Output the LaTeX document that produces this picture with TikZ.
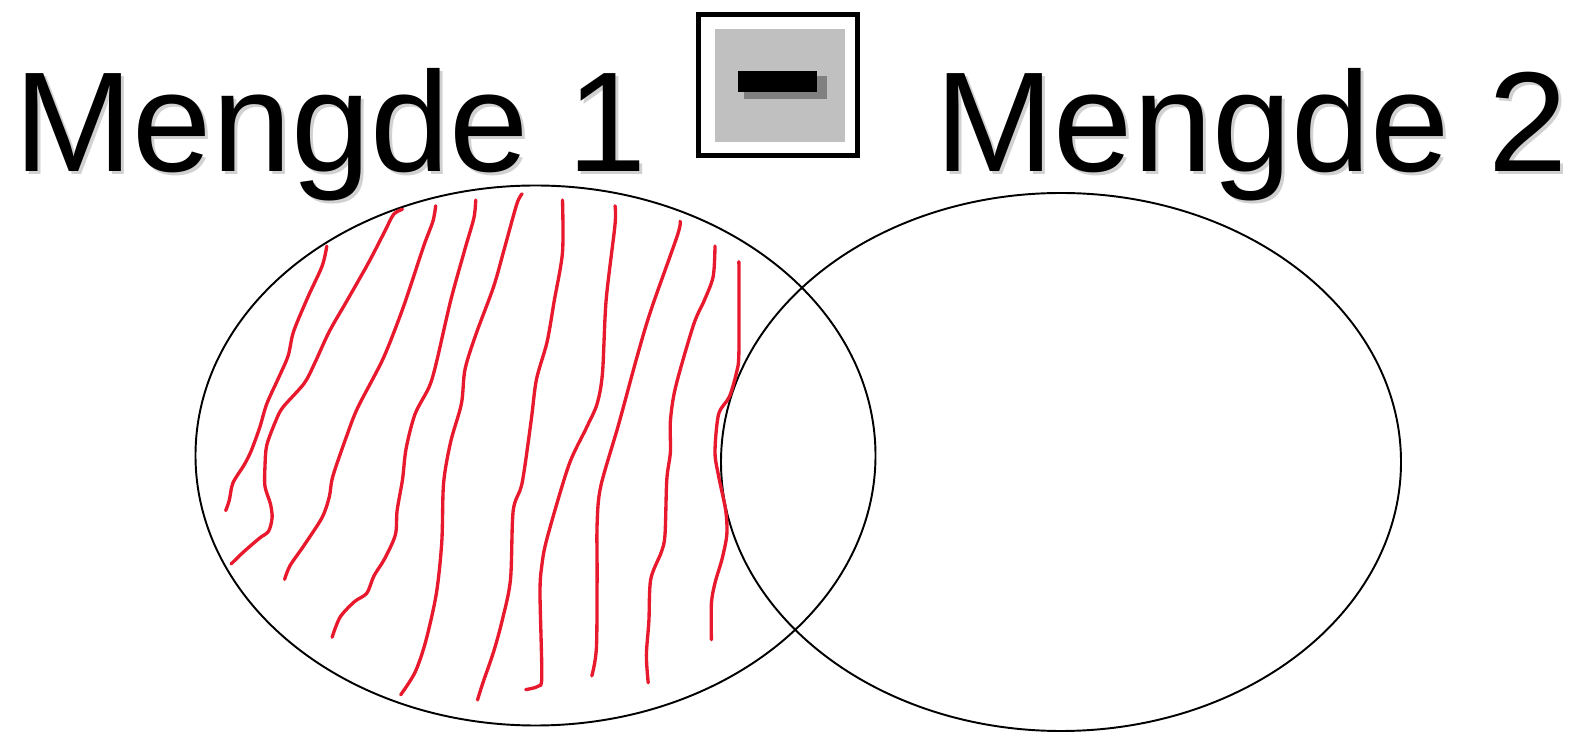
\documentclass[tikz,border=0pt]{standalone}
\usepackage{fontspec}
\setmainfont{Liberation Sans}
\usepackage{xcolor}
\usepackage{tikz}
\usetikzlibrary{positioning}
\definecolor{hatchred}{HTML}{E8192C}
\definecolor{btngray}{HTML}{C0C0C0}
\definecolor{btnshadow}{HTML}{808080}

\begin{document}
\begin{tikzpicture}[x=0.02cm,y=-0.02cm,
	setlabel/.style={inner sep=0pt,anchor=base west,font=\fontsize{81}{90}\selectfont},
	labelshadow/.style={setlabel,text=black,opacity=0.18},
	hatch/.style={hatchred,line width=1.9pt,line cap=round,line join=round},
	setline/.style={black,line width=1.1pt}]
	\useasboundingbox (0,0) rectangle (1579,732);
	\node[labelshadow] at (17,175) {Mengde 1};
	\node[labelshadow] at (938,175) {Mengde 2};
	\node[setlabel] at (14,172) (set1label) {Mengde 1};
	\node[setlabel] at (935,172) (set2label) {Mengde 2};
	\draw[line width=0.1cm] (698.5,14.5) rectangle (857.5,155.5);
	\fill[btngray] (715,29) rectangle (845,142);
	\fill[btnshadow] (744,76) rectangle (827,99);
	\fill[black] (738,71) rectangle (817,92);
	\draw[setline] (535.5,455.5) ellipse [x radius=340,y radius=270];
	\draw[setline] (1061,462) ellipse [x radius=340,y radius=269];
	\draw[hatch] plot[smooth,tension=0.5] coordinates {(326.8,246.1) (322.1,266.1) (307.9,297.1) (293.6,331.5) (288.2,355.6) (279.3,376.3) (266.8,403.8) (259.6,427.9) (250.7,452) (243.6,465.8) (232.9,483) (229.3,500.2) (225.7,510.6)};
	\draw[hatch] plot[smooth,tension=0.5] coordinates {(402.5,209.3) (393.6,214.4) (384.6,231.7) (368.6,262.6) (347.1,300.5) (329.3,331.5) (315,362.5) (304.3,383.2) (282.9,407.3) (275.7,421) (266.8,445.1) (265,465.8) (265,486.5) (270.4,503.7) (272.1,517.5) (268.6,531.2) (259.6,538.1) (243.6,551.9) (231.1,564)};
	\draw[hatch] plot[smooth,tension=0.5] coordinates {(435.7,205.8) (432.9,221.3) (423.9,245.4) (411.4,283.3) (400.7,314.3) (382.9,359.1) (357.9,407.3) (347.1,434.8) (332.9,476.1) (329.3,496.8) (322.1,517.5) (304.3,545) (290,565.7) (284.6,579.4)};
	\draw[hatch] plot[smooth,tension=0.5] coordinates {(475.7,200) (473.9,217.9) (465,248.9) (450.7,300.5) (436.4,362.5) (429.3,386.6) (415,414.2) (406.1,448.6) (402.5,479.6) (397.1,510.6) (395.4,534.7) (384.6,558.8) (373.9,576) (366.8,593.2) (354.3,601.8) (340,617.3) (332.1,637.3)};
	\draw[hatch] plot[smooth,tension=0.5] coordinates {(522.1,193.8) (516.8,204.1) (504.3,248.9) (493.6,286.7) (475.7,335) (465,369.4) (461.4,403.8) (450.7,441.7) (443.6,483) (441.8,541.6) (436.4,593.2) (425.7,641.4) (415,672.4) (400.7,694.8)};
	\draw[hatch] plot[smooth,tension=0.5] coordinates {(562.5,200) (562.5,252.3) (554.3,300.5) (547.1,341.8) (536.4,379.7) (531.1,421) (522.1,483) (513.2,510.6) (510.5,579.4) (502.3,620) (493.6,651.8) (482.9,682.8) (477.5,700)};
	\draw[hatch] plot[smooth,tension=0.5] coordinates {(615,205.8) (615,224.8) (606.1,300.5) (602.5,372.8) (597.1,403.8) (586.4,427.9) (568.6,465.8) (547.1,538.1) (541.8,565.7) (540,593.2) (541.8,675.9) (538.2,686.2) (525.7,689.6)};
	\draw[hatch] plot[smooth,tension=0.5] coordinates {(680,221.3) (677.5,235.1) (650.7,310.9) (636.4,359.1) (618.6,424.5) (600.7,486.5) (597.1,524.4) (597.1,576) (596.4,648.3) (591.8,675.9)};
	\draw[hatch] plot[smooth,tension=0.5] coordinates {(715,246.1) (713.2,276.4) (704.3,300.5) (693.6,324.6) (675.7,386.6) (670.4,421) (670.4,452) (666.8,479.6) (665,534.7) (661.4,551.9) (650.7,579.4) (648.9,620.8) (646.4,655.2) (648.2,682.8)};
	\draw[hatch] plot[smooth,tension=0.5] coordinates {(738.9,261.6) (738.9,352.2) (736.4,372.8) (729.3,396.9) (718.6,414.2) (715,452) (718.6,476.1) (725.7,510.6) (726.8,534.7) (722.1,558.8) (715,582.9) (711.4,603.6) (711.4,639.7)};
\end{tikzpicture}
\end{document}
